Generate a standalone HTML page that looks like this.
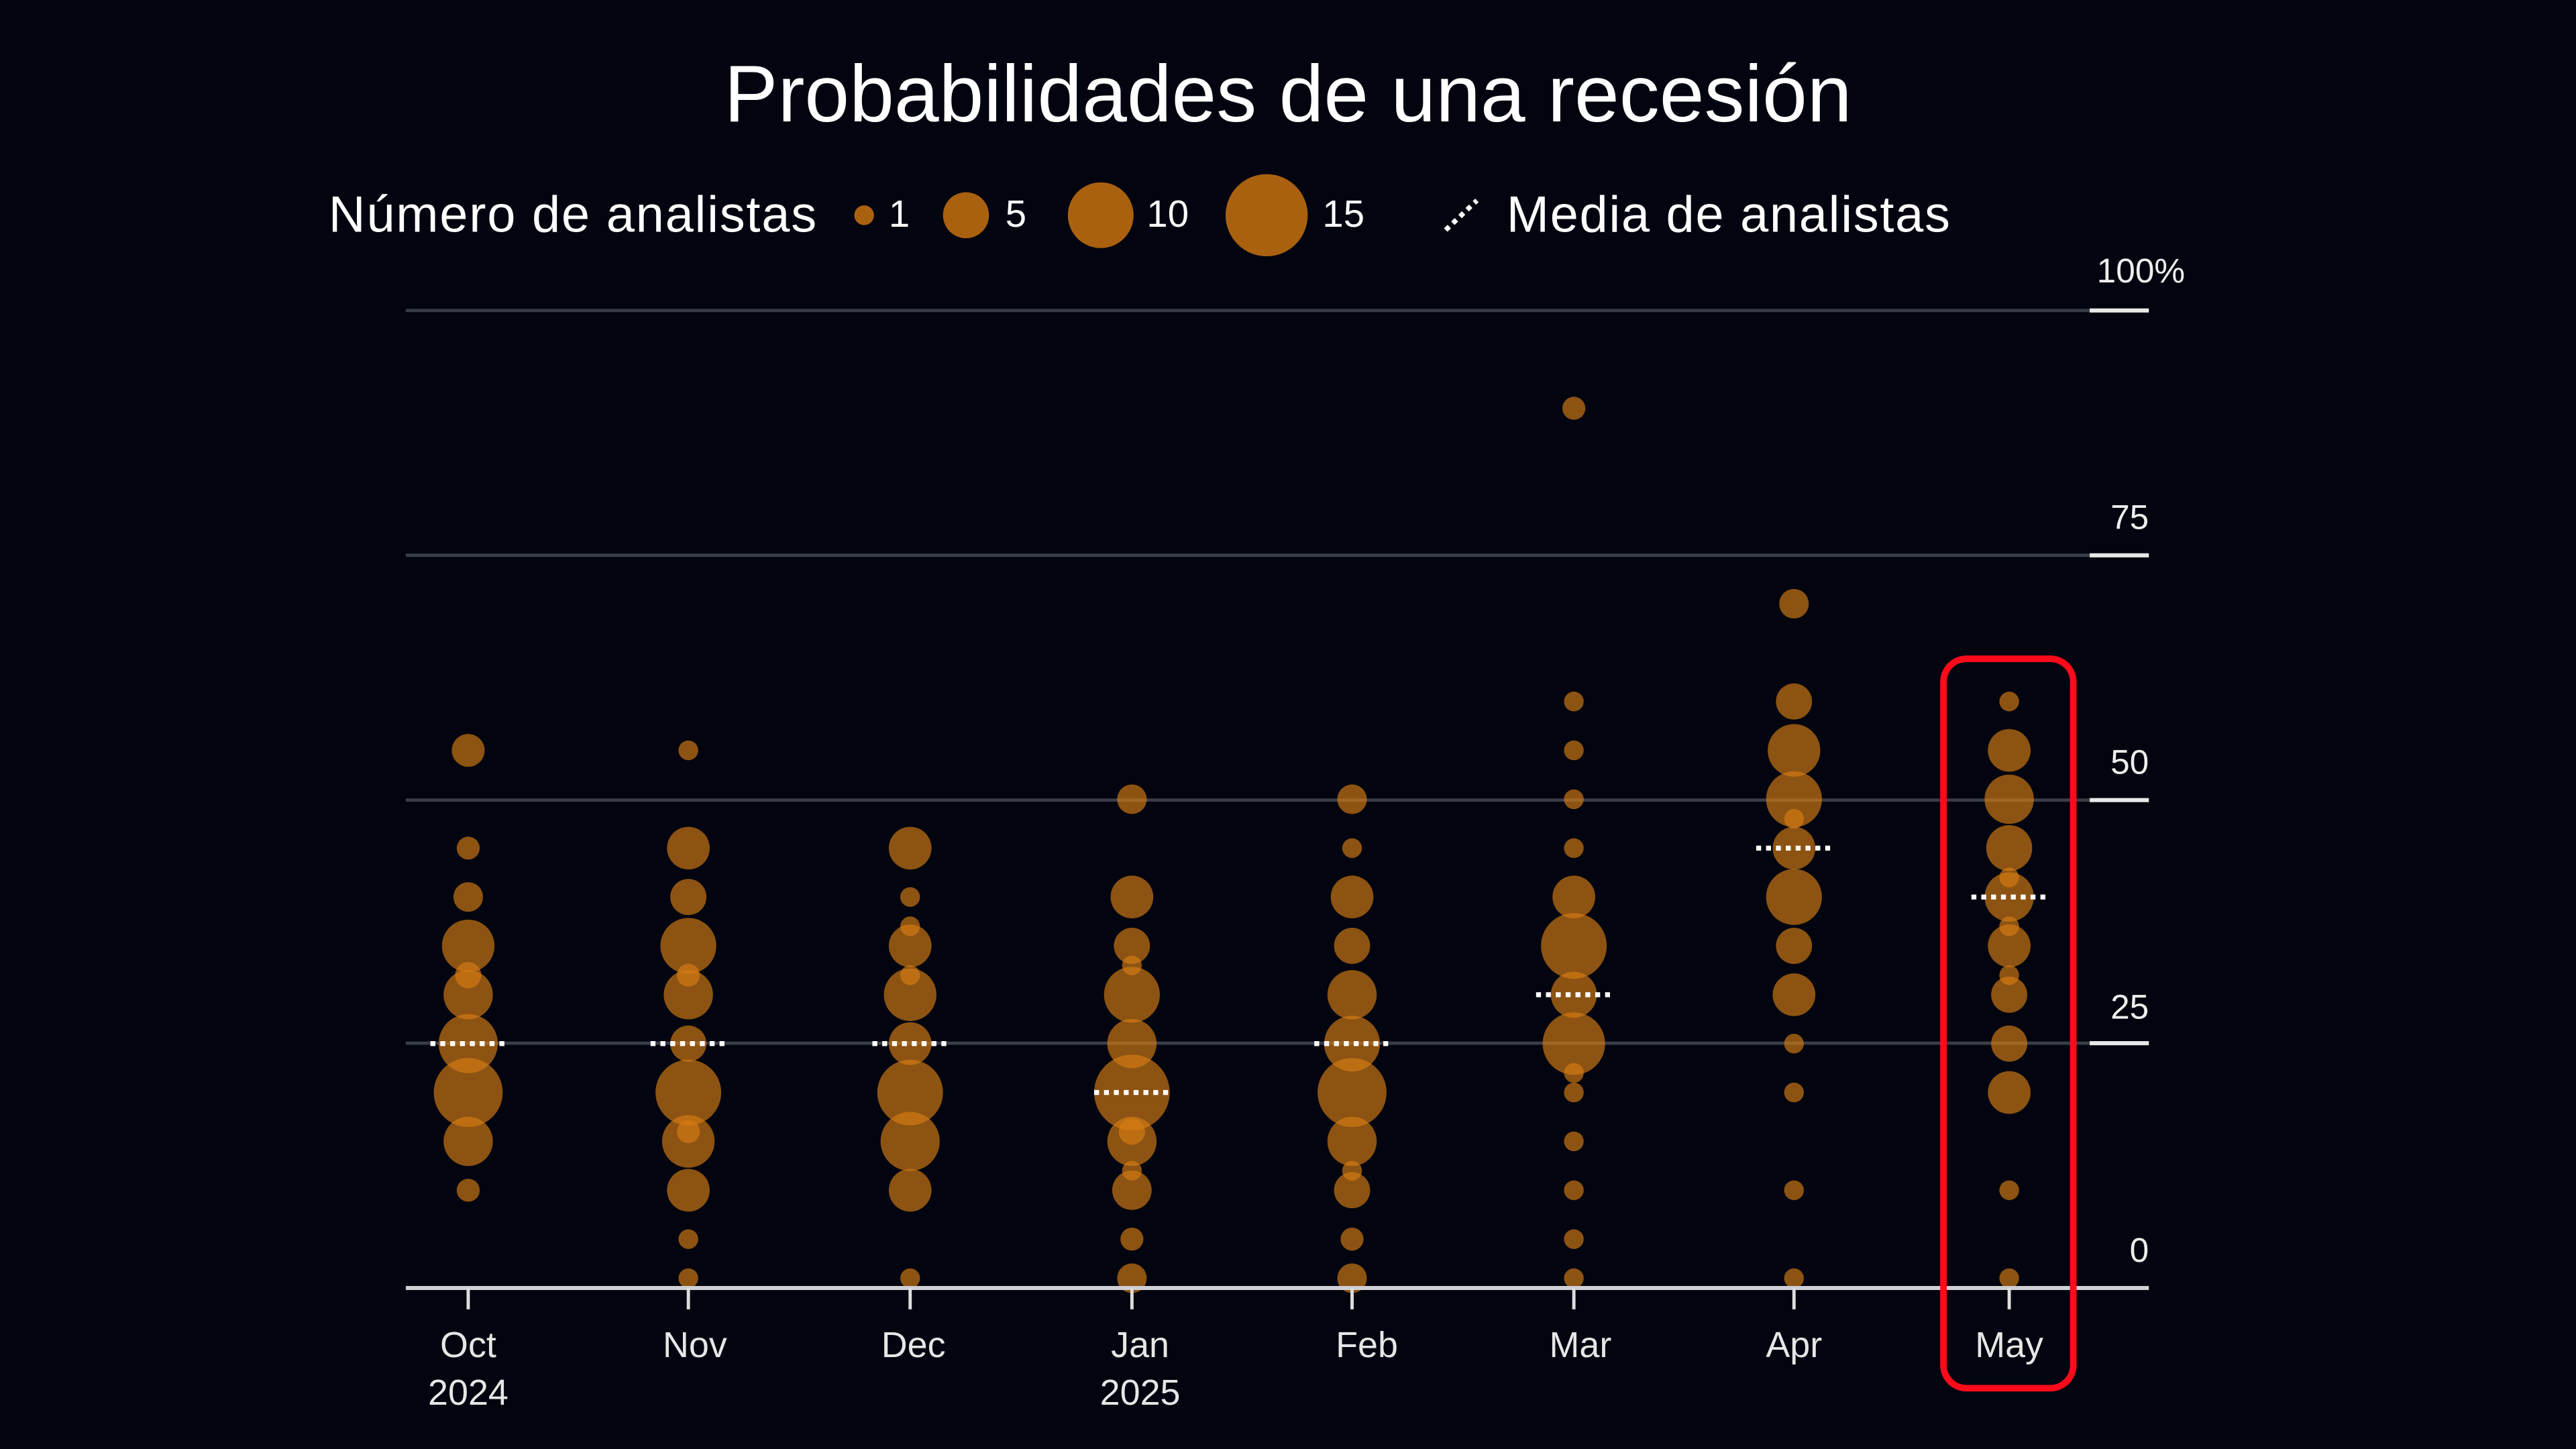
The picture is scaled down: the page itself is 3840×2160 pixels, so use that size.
<!DOCTYPE html>
<html><head><meta charset="utf-8"><style>
html,body{margin:0;padding:0;background:#02050f;}
svg{display:block;}
</style></head><body>
<svg id="s" width="3840" height="2160" viewBox="0 0 1568 882" preserveAspectRatio="none" xmlns="http://www.w3.org/2000/svg" font-family="Liberation Sans, sans-serif">
<rect width="1568" height="882" fill="#02050f"/>
<text x="784" y="74" fill="#fff" font-size="49" text-anchor="middle">Probabilidades de una recesión</text>
<text x="200" y="141" fill="#fff" font-size="31" textLength="297">Número de analistas</text>
<g fill="#c8720f" fill-opacity="0.85">
<circle cx="526" cy="131" r="6"/><circle cx="588" cy="131" r="14"/><circle cx="670" cy="131" r="20"/><circle cx="771" cy="131" r="25"/>
</g>
<g fill="#fff" font-size="23"><text x="541" y="138">1</text><text x="612" y="138">5</text><text x="698" y="138">10</text><text x="805" y="138">15</text></g>
<line x1="880" y1="140" x2="899" y2="122" stroke="#fff" stroke-width="3" stroke-dasharray="3 3"/>
<text x="917" y="141" fill="#fff" font-size="31" textLength="270">Media de analistas</text>
<g stroke="#3a3d48" stroke-width="2">
<line x1="247" y1="189" x2="1272" y2="189"/><line x1="247" y1="338" x2="1272" y2="338"/><line x1="247" y1="487" x2="1272" y2="487"/><line x1="247" y1="635" x2="1272" y2="635"/>
</g>
<g stroke="#e8e8e8" stroke-width="2.5">
<line x1="1272" y1="189" x2="1308" y2="189"/><line x1="1272" y1="338" x2="1308" y2="338"/><line x1="1272" y1="487" x2="1308" y2="487"/><line x1="1272" y1="635" x2="1308" y2="635"/>
</g>
<g fill="#eee" font-size="21" text-anchor="end">
<text x="1330" y="172">100%</text><text x="1308" y="322">75</text><text x="1308" y="471">50</text><text x="1308" y="620">25</text><text x="1308" y="768">0</text>
</g>
<g id="bub" fill="#d67d14" fill-opacity="0.66"></g>
<g id="means" stroke="#fff" stroke-width="3" stroke-dasharray="3 3"></g>
<line x1="247" y1="784" x2="1308" y2="784" stroke="#cfcfd4" stroke-width="2.5"/>
<g id="ticks" stroke="#ddd" stroke-width="2"></g>
<g fill="#e6e6e6" font-size="22" text-anchor="middle">
<text x="285" y="826">Oct</text><text x="285" y="855">2024</text>
<text x="423" y="826">Nov</text><text x="556" y="826">Dec</text>
<text x="694" y="826">Jan</text><text x="694" y="855">2025</text>
<text x="832" y="826">Feb</text><text x="962" y="826">Mar</text><text x="1092" y="826">Apr</text><text x="1223" y="826">May</text>
</g>
<rect x="1183" y="401" width="79" height="444" rx="14" fill="none" stroke="#ff0a1a" stroke-width="4"/>
</svg>
<script>
var X=[285,419,554,689,823,958,1092,1223];
var M=[25,25,25,20,25,30,45,40];
var D=[
[[55,10],[45,7],[40,9],[35,16],[32,8],[30,15],[25,18],[20,21],[15,15],[10,7]],
[[55,6],[45,13],[40,11],[35,17],[32,7],[30,15],[25,11],[20,20],[16,7],[15,16],[10,13],[5,6],[1,6]],
[[45,13],[40,6],[37,6],[35,13],[32,6],[30,16],[25,13],[20,20],[15,18],[10,13],[1,6]],
[[50,9],[40,13],[35,11],[33,6],[30,17],[25,15],[20,23],[16,8],[15,15],[12,6],[10,12],[5,7],[1,9]],
[[50,9],[45,6],[40,13],[35,11],[30,15],[25,17],[20,21],[15,15],[12,6],[10,11],[5,7],[1,9]],
[[90,7],[60,6],[55,6],[50,6],[45,6],[40,13],[35,20],[30,14],[25,19],[22,6],[20,6],[15,6],[10,6],[5,6],[1,6]],
[[70,9],[60,11],[55,16],[50,17],[48,6],[45,13],[40,17],[35,11],[30,13],[25,6],[20,6],[10,6],[1,6]],
[[60,6],[55,13],[50,15],[45,14],[42,6],[40,15],[37,6],[35,13],[32,6],[30,11],[25,11],[20,13],[10,6],[1,6]]];
var ns="http://www.w3.org/2000/svg";
function y(v){return 784-v*5.95;}
var b=document.getElementById("bub"),m=document.getElementById("means"),t=document.getElementById("ticks");
D.forEach(function(col,i){col.forEach(function(p){var c=document.createElementNS(ns,"circle");c.setAttribute("cx",X[i]);c.setAttribute("cy",y(p[0]));c.setAttribute("r",p[1]);b.appendChild(c);});
var l=document.createElementNS(ns,"line");l.setAttribute("x1",X[i]-23);l.setAttribute("x2",X[i]+23);l.setAttribute("y1",y(M[i]));l.setAttribute("y2",y(M[i]));m.appendChild(l);
var k=document.createElementNS(ns,"line");k.setAttribute("x1",X[i]);k.setAttribute("x2",X[i]);k.setAttribute("y1",784);k.setAttribute("y2",797);t.appendChild(k);});
</script>
</body></html>
